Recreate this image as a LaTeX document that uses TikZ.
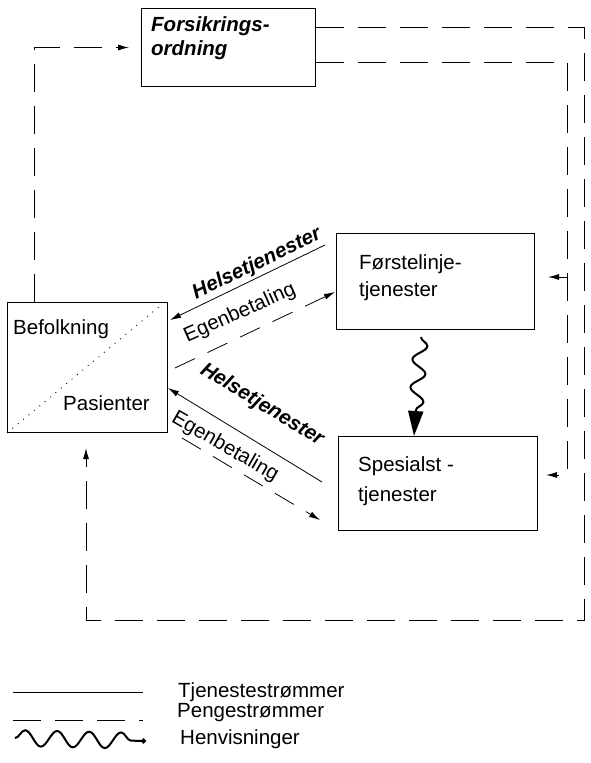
\documentclass[tikz,border=0pt]{standalone}
\usepackage{fontspec}
\setmainfont{Liberation Sans}
\usetikzlibrary{arrows.meta,decorations.pathmorphing}

\begin{document}
\begin{tikzpicture}[x=1pt, y=-1pt, >={Latex[length=11pt,width=6pt]},
  box/.style={draw, line width=1pt, rectangle, anchor=north west, inner sep=0pt},
  txt/.style={anchor=base west, inner sep=0pt, font=\fontsize{20.5}{24}\selectfont},
  tag/.style={inner sep=0pt, font=\fontsize{20.5}{24}\selectfont},
  bi/.style={font=\fontsize{20.5}{24}\selectfont\bfseries\itshape},
  money/.style={line width=1pt, dash pattern=on 28pt off 14pt},
  pay/.style={line width=0.8pt, dash pattern=on 22pt off 14pt},
  flow/.style={line width=0.8pt},
  refer/.style={line width=2pt, decorate, decoration={snake, amplitude=7pt, segment length=28pt, post length=24pt}}]
  \useasboundingbox (0,0) rectangle (590,763);
  \node[box, minimum width=174pt, minimum height=78pt] (fors) at (141,8) {};
  \node[box, minimum width=160pt, minimum height=130pt] (bef) at (7,302) {};
  \node[box, minimum width=198pt, minimum height=96pt] (first) at (336,233) {};
  \node[box, minimum width=199pt, minimum height=94pt] (spes) at (338,436) {};
  \node[txt, bi] (fors1) at (151,31) {Forsikrings-};
  \node[txt, bi] (fors2) at (151,55) {ordning};
  \node[txt] (bef1) at (13,334) {Befolkning}; \node[txt] (bef2) at (63,410) {Pasienter};
  \node[txt] (first1) at (359,269) {Førstelinje-}; \node[txt] (first2) at (359,296) {tjenester};
  \node[txt] (spes1) at (358,471) {Spesialst -}; \node[txt] (spes2) at (358,501) {tjenester};
  \draw[line width=0.8pt, dash pattern=on 1pt off 6pt] (bef.south west) -- (160,306);
  \coordinate (h1a) at (325,245); \coordinate (h1b) at (170,320);
  \coordinate (e1a) at (175,368); \coordinate (e1b) at (335,292);
  \coordinate (h2a) at (322,482); \coordinate (h2b) at (168,388);
  \coordinate (e2a) at (182,438); \coordinate (e2b) at (320,520);
  \draw[flow,->] (h1a) -- (h1b); \draw[pay,->] (e1a) -- (e1b);
  \draw[flow,->] (h2a) -- (h2b); \draw[pay,->] (e2a) -- (e2b);
  \node[tag, bi, rotate=25.8] (hel1) at (257,264) {Helsetjenester};
  \node[tag, rotate=24] (egen1) at (240,313) {Egenbetaling};
  \node[tag, bi, rotate=-31.4] (hel2) at (262,405) {Helsetjenester};
  \node[tag, rotate=-30] (egen2) at (225,447) {Egenbetaling};
  \coordinate (sq) at (421,337);
  \draw[refer, -{Triangle[length=25pt,width=15pt]}] (sq) -- (spes.north -| 414,0);
  \draw[money,->,shorten >=12pt] (34,0 |- bef.north) |- (fors.west);
  \draw[money,->,shorten >=15pt] (fors.east |- 0,27) -| (584,620) -| (86,0 |- bef.south);
  \draw[money,->,shorten >=8pt] (fors.east |- 0,62) -| (567,475) -- (spes.east |- 0,475);
  \draw[money,->,shorten >=13pt] (567,277) -- (first.east |- 0,277);
  \coordinate (l1a) at (13,692); \coordinate (l1b) at (143,692);
  \coordinate (l2a) at (13,720); \coordinate (l2b) at (143,720);
  \coordinate (l3a) at (15,738); \coordinate (l3b) at (146,741);
  \draw[flow] (l1a) -- (l1b); \draw[money] (l2a) -- (l2b);
  \draw[line width=2pt, decorate, decoration={snake, amplitude=8pt, segment length=32pt, post length=14pt}, -{Circle[length=5pt]}] (l3a) -- (l3b);
  \node[txt] (leg1) at (178,697) {Tjenestestrømmer};
  \node[txt] (leg2) at (177,717) {Pengestrømmer};
  \node[txt] (leg3) at (180,744) {Henvisninger};
\end{tikzpicture}
\end{document}
